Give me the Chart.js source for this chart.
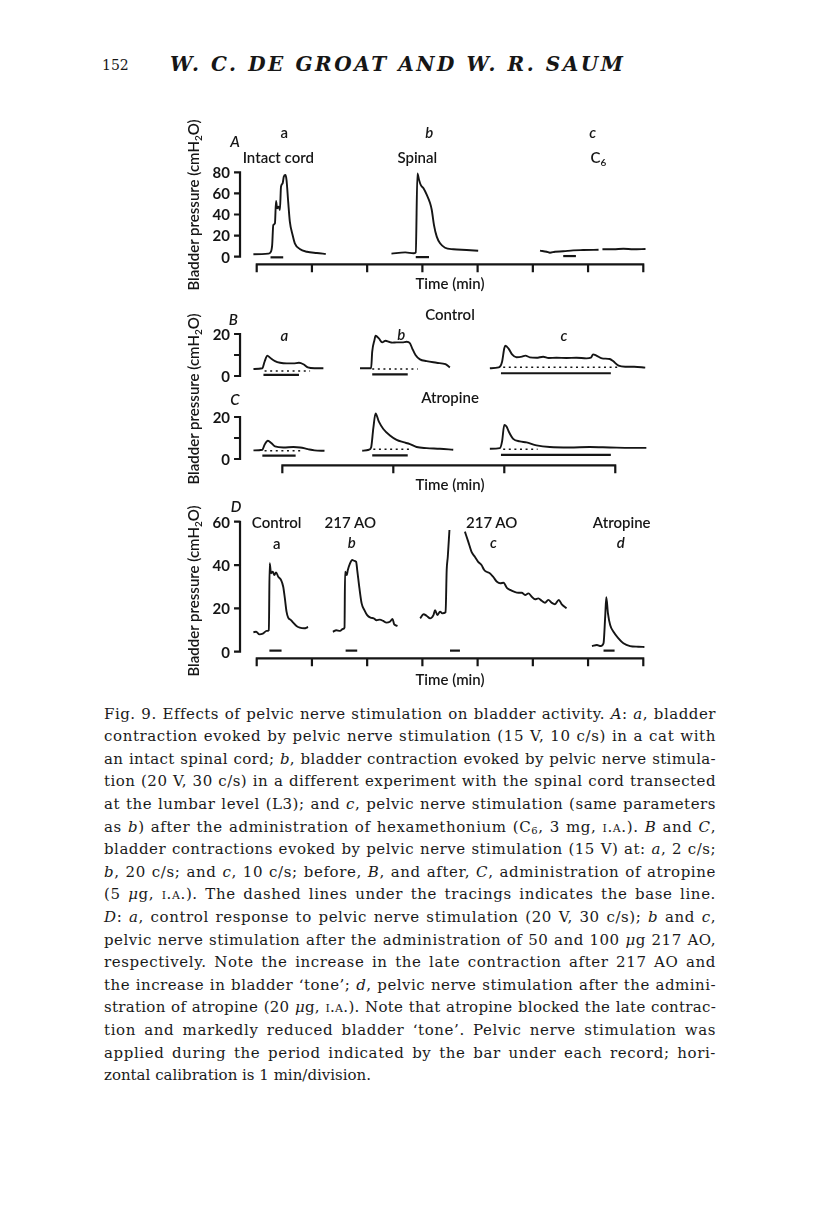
<!DOCTYPE html>
<html>
<head>
<meta charset="utf-8">
<script src="https://cdn.jsdelivr.net/npm/chart.js@4.4.0/dist/chart.umd.min.js"></script>
<style>
html, body { margin: 0; padding: 0; background: #fff; }
#page { position: relative; width: 816px; height: 1221px; background: #fff; overflow: hidden; color: #161616; }
canvas { position: absolute; }
.lb { position: absolute; font-family: Lato, 'Open Sans', sans-serif; font-size: 15px; font-weight: 600; line-height: 1; white-space: nowrap; transform: translate(-50%, -50%); }
.it { font-style: italic; }
.yt { position: absolute; font-family: Lato, 'Open Sans', sans-serif; font-size: 15px; font-weight: 600; line-height: 1; white-space: nowrap; transform: translate(-50%, -50%) rotate(-90deg); }
.lb sub, .yt sub { font-size: 10px; vertical-align: -3px; line-height: 0; }
.hdr { position: absolute; font-family: 'DejaVu Serif', serif; white-space: nowrap; line-height: 1; transform: translateY(-50%); }
#cap { position: absolute; left: 104px; top: 702.7px; width: 612px; font-family: 'DejaVu Serif', serif; font-size: 15px; line-height: 22.6px; color: #1a1a1a; }
#cap div { white-space: nowrap; text-align: justify; height: 22.6px; }
#cap sub { font-size: 10px; vertical-align: -2px; line-height: 0; }
.sc { font-variant: small-caps; }
</style>
</head>
<body>
<div id="page">
  <div class="hdr" style="left:102px; top:65px; font-size:14px;">152</div>
  <div class="hdr" id="title" style="left:170px; top:64px; font-size:20px; font-style:italic; font-weight:bold;">W. C. DE GROAT AND W. R. SAUM</div>

  <canvas id="chartA" width="520" height="200" style="left:150px; top:100px;"></canvas>
  <canvas id="chartBC" width="520" height="195" style="left:150px; top:300px;"></canvas>
  <canvas id="chartD" width="520" height="200" style="left:150px; top:495px;"></canvas>

  <!-- panel A labels -->
  <div class="yt" style="left:192.7px; top:204.5px;">Bladder pressure (cmH<sub>2</sub>O)</div>
  <div class="lb it" style="left:235px; top:140.7px;">A</div>
  <div class="lb" style="left:284.3px; top:131.7px;">a</div>
  <div class="lb it" style="left:429.3px; top:131.7px;">b</div>
  <div class="lb it" style="left:592.7px; top:131.7px;">c</div>
  <div class="lb" style="left:278.3px; top:156.7px;">Intact cord</div>
  <div class="lb" style="left:417.3px; top:156.7px;">Spinal</div>
  <div class="lb" style="left:598.3px; top:157px;">C<sub>6</sub></div>
  <div class="lb" style="left:450px; top:283.3px;">Time (min)</div>

  <!-- panels B and C labels -->
  <div class="yt" style="left:192.7px; top:398.5px;">Bladder pressure (cmH<sub>2</sub>O)</div>
  <div class="lb it" style="left:233.3px; top:319.3px;">B</div>
  <div class="lb" style="left:450px; top:314px;">Control</div>
  <div class="lb it" style="left:284.3px; top:334.5px;">a</div>
  <div class="lb it" style="left:401.3px; top:334px;">b</div>
  <div class="lb it" style="left:564px; top:334.5px;">c</div>
  <div class="lb it" style="left:235px; top:399.3px;">C</div>
  <div class="lb" style="left:450px; top:396.7px;">Atropine</div>
  <div class="lb" style="left:450px; top:484px;">Time (min)</div>

  <!-- panel D labels -->
  <div class="yt" style="left:192.7px; top:591px;">Bladder pressure (cmH<sub>2</sub>O)</div>
  <div class="lb it" style="left:236px; top:505.7px;">D</div>
  <div class="lb" style="left:276.7px; top:522.3px;">Control</div>
  <div class="lb" style="left:276.7px; top:543.3px;">a</div>
  <div class="lb" style="left:350.3px; top:521.7px;">217 AO</div>
  <div class="lb it" style="left:351.7px; top:541.7px;">b</div>
  <div class="lb" style="left:491.7px; top:521.7px;">217 AO</div>
  <div class="lb it" style="left:493.3px; top:542.3px;">c</div>
  <div class="lb" style="left:621.7px; top:521.7px;">Atropine</div>
  <div class="lb it" style="left:620.7px; top:541.7px;">d</div>
  <div class="lb" style="left:450px; top:679px;">Time (min)</div>

  <div id="cap">
    <div>Fig. 9. Effects of pelvic nerve stimulation on bladder activity. <i>A</i>: <i>a</i>, bladder</div>
    <div>contraction evoked by pelvic nerve stimulation (15 V, 10 c/s) in a cat with</div>
    <div>an intact spinal cord; <i>b</i>, bladder contraction evoked by pelvic nerve stimula-</div>
    <div>tion (20 V, 30 c/s) in a different experiment with the spinal cord transected</div>
    <div>at the lumbar level (L3); and <i>c</i>, pelvic nerve stimulation (same parameters</div>
    <div>as <i>b</i>) after the administration of hexamethonium (C<sub>6</sub>, 3 mg, <span class="sc">i.a.</span>). <i>B</i> and <i>C</i>,</div>
    <div>bladder contractions evoked by pelvic nerve stimulation (15 V) at: <i>a</i>, 2 c/s;</div>
    <div><i>b</i>, 20 c/s; and <i>c</i>, 10 c/s; before, <i>B</i>, and after, <i>C</i>, administration of atropine</div>
    <div>(5 <i>μ</i>g, <span class="sc">i.a.</span>). The dashed lines under the tracings indicates the base line.</div>
    <div><i>D</i>: <i>a</i>, control response to pelvic nerve stimulation (20 V, 30 c/s); <i>b</i> and <i>c</i>,</div>
    <div>pelvic nerve stimulation after the administration of 50 and 100 <i>μ</i>g 217 AO,</div>
    <div>respectively. Note the increase in the late contraction after 217 AO and</div>
    <div>the increase in bladder ‘tone’; <i>d</i>, pelvic nerve stimulation after the admini-</div>
    <div>stration of atropine (20 <i>μ</i>g, <span class="sc">i.a.</span>). Note that atropine blocked the late contrac-</div>
    <div>tion and markedly reduced bladder ‘tone’. Pelvic nerve stimulation was</div>
    <div>applied during the period indicated by the bar under each record; hori-</div>
    <div class="last">zontal calibration is 1 min/division.</div>
  </div>
</div>

<script>
// time in min, pressure in cmH2O

// A: a intact cord, b spinal, c after C6
var aIntactT = [-0.06, 0.21, 0.25, 0.28, 0.30, 0.33, 0.35, 0.37, 0.40, 0.42, 0.44, 0.47, 0.49, 0.52, 0.54, 0.57, 0.60, 0.65, 0.69, 0.78, 0.91, 1.09, 1.25]
var aIntactP = [2.3, 2.9, 4.1, 11, 30, 31.6, 52.8, 45.8, 47.4, 44.3, 66.4, 69.6, 75.8, 77.4, 72.7, 52.1, 33.2, 20.6, 12.7, 7.3, 4.7, 3.5, 2.6]
var aSpinalT = [2.44, 2.69, 2.84, 2.88, 2.91, 2.94, 2.97, 3.02, 3.08, 3.14, 3.17, 3.21, 3.26, 3.32, 3.41, 3.56, 3.80, 4.01]
var aSpinalP = [2.9, 4.1, 3.2, 4.1, 79, 72.7, 68, 64.8, 58.5, 50.6, 44.3, 30, 19, 12.7, 8.5, 7, 6.4, 5.7]
var aC6T = [5.13, 5.25, 5.31, 5.40, 5.55, 5.73, 5.91, 6.19, 6.22, 6.26, 6.46, 6.64, 6.82, 7.04]
var aC6P = [5.7, 4.7, 3.8, 4.7, 5.1, 6, 6.3, 6.6, null, 7, 7, 7.6, 7, 7.3]
var stimA = [[0.25, 0.48, -0.6], [2.88, 3.12, -0.4], [5.55, 5.78, 0.6]]   // start, end, level
var yTicksA = [0, 20, 40, 60, 80]
var timeTicksA = [0, 1, 2, 3, 4, 5, 6, 7]

// B: control, a 2 c/s, b 20 c/s, c 10 c/s
var bAT = [-0.26, -0.18, -0.16, -0.135, -0.11, -0.066, -0.02, 0.04, 0.10, 0.15, 0.19, 0.23, 0.29, 0.37]
var bAP = [3.3, 3.7, 6.8, 9.7, 8.7, 7.1, 6.3, 6.0, 6.0, 6.3, 5.6, 4.1, 3.7, 3.7]
var bBT = [0.70, 0.80, 0.81, 0.83, 0.84, 0.87, 0.90, 0.93, 0.96, 0.99, 1.03, 1.08, 1.12, 1.15, 1.17, 1.20, 1.24, 1.30, 1.39, 1.47, 1.51]
var bBP = [3.7, 3.7, 11.6, 17.1, 19.2, 17.9, 16, 16.8, 16.3, 15.9, 16, 16, 16.3, 15.6, 13.2, 10, 7.9, 7.1, 6.3, 5.6, 4.1]
var bCT = [1.87, 1.95, 1.98, 2.00, 2.01, 2.04, 2.07, 2.11, 2.16, 2.19, 2.23, 2.29, 2.35, 2.40, 2.47, 2.56, 2.65, 2.74, 2.78, 2.80, 2.83, 2.88, 2.95, 2.98, 3.03, 3.09, 3.17, 3.27]
var bCP = [3.7, 4.1, 6.8, 13.2, 14.4, 12.9, 10.3, 8.9, 9.2, 9.7, 8.9, 8.7, 9.2, 8.6, 8.7, 8.6, 8.7, 8.4, 8.7, 10.3, 9.7, 8.4, 8.1, 7.1, 4.9, 4.4, 4.4, 4.0]
var stimB = [[-0.17, 0.15, 0.5], [0.81, 1.13, 0.8], [1.97, 2.96, 1.3]]
var baseB = [[-0.16, 0.25, 2.4], [0.81, 1.22, 3.3], [1.99, 3.02, 4.2]]

// C: same after atropine
var cAT = [-0.26, -0.18, -0.16, -0.13, -0.10, -0.066, 0.01, 0.10, 0.16, 0.23, 0.29, 0.38]
var cAP = [4.1, 4.4, 6.8, 8.7, 7.6, 6.0, 5.5, 5.7, 5.5, 4.7, 4.1, 3.9]
var cBT = [0.72, 0.78, 0.80, 0.82, 0.84, 0.87, 0.91, 0.97, 1.03, 1.09, 1.15, 1.21, 1.30, 1.42, 1.54]
var cBP = [3.9, 4.4, 5.5, 14.7, 21.7, 17.8, 14.3, 11.2, 9.1, 8.0, 7.1, 5.7, 5.2, 4.9, 4.4]
var cCT = [1.87, 1.96, 1.98, 2.00, 2.02, 2.04, 2.08, 2.14, 2.20, 2.29, 2.41, 2.59, 2.77, 2.95, 3.14, 3.28]
var cCP = [4.9, 5.2, 8.4, 16.2, 15.5, 13.1, 9.6, 8.4, 7.9, 6.5, 5.7, 5.5, 5.7, 5.5, 5.3, 5.3]
var stimC = [[-0.18, 0.12, 1.6], [0.81, 1.13, 1.7], [1.97, 2.96, 2.0]]
var baseC = [[-0.16, 0.19, 3.9], [0.82, 1.17, 4.7], [1.99, 2.30, 4.6]]
var yTicksBC = [0, 10, 20]
var yLabelsBC = ['0', '', '20']
var timeTicksBC = [0, 1, 2, 3]

// D: a control, b and c 217 AO, d atropine
var dAT = [-0.06, -0.01, 0.05, 0.11, 0.18, 0.22, 0.235, 0.26, 0.29, 0.32, 0.35, 0.39, 0.44, 0.48, 0.51, 0.54, 0.57, 0.62, 0.66, 0.72, 0.78, 0.86, 0.93]
var dAP = [9, 9.2, 8, 8.3, 9.6, 10, 40.8, 36.2, 36.9, 35.4, 36.6, 34.6, 33.1, 30, 24.6, 18.5, 15.7, 14.6, 13.4, 11.9, 11.1, 10.8, 11.4]
var dBT = [1.38, 1.44, 1.51, 1.56, 1.59, 1.60, 1.63, 1.65, 1.69, 1.73, 1.77, 1.80, 1.82, 1.86, 1.90, 1.95, 2.00, 2.06, 2.12, 2.17, 2.23, 2.29, 2.35, 2.41, 2.46, 2.49, 2.55]
var dBP = [9.2, 9.9, 9.6, 10.5, 11.1, 36.9, 35.4, 37.7, 40.8, 42.3, 41.9, 41.5, 37.7, 29.3, 22.3, 19.2, 16.9, 15.7, 15.4, 14.5, 14.8, 14.2, 13.4, 13.8, 15.1, 12.6, 11.9]
var dCT = [2.96, 3.02, 3.08, 3.14, 3.20, 3.23, 3.27, 3.32, 3.36, 3.42, 3.44, 3.46, 3.49, 3.63, 3.77, 3.83, 3.89, 3.95, 4.01, 4.07, 4.12, 4.16, 4.22, 4.28, 4.35, 4.41, 4.47, 4.53, 4.59, 4.66, 4.74, 4.80, 4.86, 4.92, 4.98, 5.04, 5.10, 5.16, 5.22, 5.28, 5.34, 5.40, 5.47, 5.52, 5.61]
var dCP = [15.4, 17.3, 16.5, 15.4, 16.9, 19.2, 16.9, 18.5, 17.7, 18.2, 37.7, 43.8, 56.2, null, 55.4, 50.8, 46.1, 43.8, 41.5, 40, 37.7, 36.9, 36.2, 34.6, 32.3, 31.6, 31.8, 29.5, 28.5, 27.7, 27.2, 27.2, 26.2, 26.9, 25.4, 24.2, 24.6, 23.5, 22.6, 23.9, 22.6, 21.9, 23.9, 22, 20]
var dDT = [6.07, 6.16, 6.23, 6.28, 6.31, 6.33, 6.36, 6.40, 6.46, 6.55, 6.64, 6.76, 6.91, 7.02]
var dDP = [2.6, 3.1, 2.6, 3.9, 16.2, 25.1, 17.7, 12.3, 9.2, 6.2, 3.9, 2.6, 2.3, 2.2]
var stimD = [[0.23, 0.45, 0.5], [1.61, 1.82, 0.5], [3.50, 3.68, 0.5], [6.28, 6.48, 0.5]]
var yTicksD = [0, 20, 40, 60]
var timeTicksD = [0, 1, 2, 3, 4, 5, 6, 7]

var ink = '#151515'

function pts(t, p) {
  return t.map(function (x, i) { return { x: x, y: p[i] } })
}

function trace(t, p, axis) {
  return {
    data: pts(t, p), yAxisID: axis || 'y',
    borderColor: ink, borderWidth: 1.9, pointRadius: 0,
    cubicInterpolationMode: 'monotone', clip: false
  }
}

function bars(list, axis, dashed) {
  return list.map(function (b) {
    return {
      data: [{ x: b[0], y: b[2] }, { x: b[1], y: b[2] }], yAxisID: axis || 'y',
      borderColor: ink, borderWidth: dashed ? 1.5 : 2.2, pointRadius: 0,
      borderDash: dashed ? [2, 3.6] : [], clip: false
    }
  })
}

// draws the calibration bars (pressure and time) from the chart's own scales
var calibPlugin = {
  id: 'calib',
  afterDatasetsDraw: function (chart, args, o) {
    var ctx = chart.ctx, xs = chart.scales.x
    ctx.save()
    ctx.strokeStyle = ink
    ctx.fillStyle = ink
    ctx.lineWidth = 2.2
    ctx.font = 'bold 15px Lato'
    ctx.textAlign = 'right'
    ctx.textBaseline = 'middle'
    ;(o.yBars || []).forEach(function (b) {
      var ys = chart.scales[b.axis]
      var x = xs.getPixelForValue(b.at)
      var y0 = ys.getPixelForValue(b.ticks[0])
      var y1 = ys.getPixelForValue(b.ticks[b.ticks.length - 1])
      ctx.beginPath()
      ctx.moveTo(x, y0 + 1)
      ctx.lineTo(x, y1 - 1)
      b.ticks.forEach(function (v) {
        var y = ys.getPixelForValue(v)
        ctx.moveTo(x - 6, y)
        ctx.lineTo(x, y)
      })
      ctx.stroke()
      b.ticks.forEach(function (v, i) {
        var lab = b.labels ? b.labels[i] : String(v)
        if (lab) ctx.fillText(lab, x - 10, ys.getPixelForValue(v) + 1)
      })
    })
    var tb = o.timeBar
    if (tb) {
      var y = chart.scales[tb.axis].getPixelForValue(tb.level)
      var xa = xs.getPixelForValue(tb.ticks[0])
      var xb = xs.getPixelForValue(tb.ticks[tb.ticks.length - 1])
      ctx.beginPath()
      ctx.moveTo(xa - 1, y)
      ctx.lineTo(xb + 1, y)
      tb.ticks.forEach(function (t) {
        var x = xs.getPixelForValue(t)
        ctx.moveTo(x, y)
        ctx.lineTo(x, y + 8)
      })
      ctx.stroke()
    }
    ctx.restore()
  }
}

function makeChart(id, datasets, scales, padding, calib) {
  return new Chart(document.getElementById(id), {
    type: 'line',
    data: { datasets: datasets },
    options: {
      animation: false,
      responsive: false,
      events: [],
      layout: { padding: padding },
      plugins: { legend: { display: false }, tooltip: { enabled: false }, calib: calib },
      scales: scales
    },
    plugins: [calibPlugin]
  })
}

makeChart('chartA',
  [trace(aIntactT, aIntactP), trace(aSpinalT, aSpinalP), trace(aC6T, aC6P)].concat(bars(stimA)),
  {
    x: { type: 'linear', min: -0.1, max: 7.1, display: false },
    y: { type: 'linear', min: 0, max: 80, display: false }
  },
  { left: 101.18, right: 21.18, top: 72.3, bottom: 43.3 },
  {
    yBars: [{ axis: 'y', at: -0.302, ticks: yTicksA }],
    timeBar: { axis: 'y', level: -7.2, ticks: timeTicksA }
  })

makeChart('chartBC',
  [trace(bAT, bAP, 'yB'), trace(bBT, bBP, 'yB'), trace(bCT, bCP, 'yB'),
   trace(cAT, cAP, 'yC'), trace(cBT, cBP, 'yC'), trace(cCT, cCP, 'yC')]
    .concat(bars(stimB, 'yB'), bars(baseB, 'yB', true), bars(stimC, 'yC'), bars(baseC, 'yC', true)),
  {
    x: { type: 'linear', min: -0.3, max: 3.3, display: false },
    yB: { type: 'linear', axis: 'y', position: 'left', min: -39.52, max: 20, display: false },
    yC: { type: 'linear', axis: 'y', position: 'left', min: 0, max: 59.52, display: false }
  },
  { left: 99.03, right: 21.43, top: 34, bottom: 36 },
  {
    yBars: [
      { axis: 'yB', at: -0.381, ticks: yTicksBC, labels: yLabelsBC },
      { axis: 'yC', at: -0.381, ticks: yTicksBC, labels: yLabelsBC }
    ],
    timeBar: { axis: 'yC', level: -3, ticks: timeTicksBC }
  })

makeChart('chartD',
  [trace(dAT, dAP), trace(dBT, dBP), trace(dCT, dCP), trace(dDT, dDP)].concat(bars(stimD)),
  {
    x: { type: 'linear', min: -0.1, max: 7.1, display: false },
    y: { type: 'linear', min: 0, max: 60, display: false }
  },
  { left: 101.18, right: 21.18, top: 26.7, bottom: 43.3 },
  {
    yBars: [{ axis: 'y', at: -0.302, ticks: yTicksD }],
    timeBar: { axis: 'y', level: -3.05, ticks: timeTicksD }
  })

// fit header and caption lines to the measure
function naturalWidth(el) {
  var r = document.createRange()
  r.selectNodeContents(el)
  return r.getBoundingClientRect().width
}
var title = document.getElementById('title')
var tw = naturalWidth(title)
title.style.letterSpacing = ((453 - tw) / (title.textContent.length - 1)) + 'px'

document.querySelectorAll('#cap div').forEach(function (d) {
  if (d.classList.contains('last')) return
  var w = naturalWidth(d)
  var ls = (606 - w) / d.textContent.length
  d.style.letterSpacing = Math.max(-1.2, Math.min(0.6, ls)) + 'px'
  d.style.textAlignLast = 'justify'
})
</script>
</body>
</html>
